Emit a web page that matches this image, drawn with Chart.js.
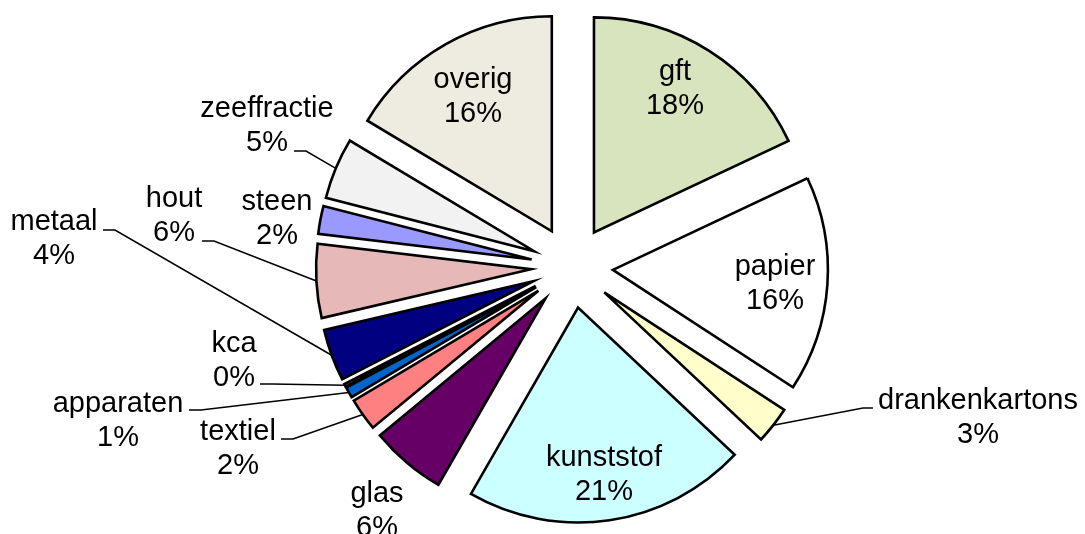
<!DOCTYPE html>
<html>
<head>
<meta charset="utf-8">
<title>Samenstelling restafval</title>
<script src="https://cdn.jsdelivr.net/npm/chart.js@4.4.1/dist/chart.umd.min.js"></script>
<style>
    html, body { margin: 0; padding: 0; background: #fff; }
    canvas { display: block; }
</style>
</head>
<body>
<canvas id="pieChart" width="1085" height="534"></canvas>
<script>
const categories = ['gft', 'papier', 'drankenkartons', 'kunststof', 'glas', 'textiel', 'apparaten', 'kca', 'metaal', 'hout', 'steen', 'zeeffractie', 'overig'];
const shares = [18.0, 16.2, 2.8, 21.3, 5.7, 2.45, 0.8, 0.2, 3.9, 5.55, 2.1, 4.6, 16.4];
const sliceColors = ['#D7E4BD', '#FFFFFF', '#FFFFCC', '#CCFFFF', '#660066', '#FF8080', '#0066CC', '#CCCCFF', '#000080', '#E6B9B8', '#9999FF', '#F2F2F2', '#EEECE1'];

// where each label sits, relative to the pie centre (x = text centre, y = first baseline)
// lx/ly = start of the leader line, only for labels outside the pie
const labelSpots = [
    { x: 103, y: -187 },
    { x: 203, y: 8 },
    { x: 406, y: 142, lx: 301, ly: 141 },
    { x: 32, y: 199 },
    { x: -195, y: 235 },
    { x: -334, y: 173, lx: -291, ly: 172 },
    { x: -454, y: 145, lx: -383, ly: 143 },
    { x: -338, y: 85, lx: -312, ly: 117 },
    { x: -518, y: -37, lx: -469, ly: -37 },
    { x: -398, y: -60, lx: -370, ly: -26 },
    { x: -295, y: -57 },
    { x: -305, y: -150, lx: -278, ly: -116 },
    { x: -99, y: -179 }
];

// pull every slice out along its middle angle
const explodePlugin = {
    id: 'explode',
    afterDatasetsUpdate(chart, args, opts) {
        chart.getDatasetMeta(0).data.forEach(function (arc) {
            const mid = (arc.startAngle + arc.endAngle) / 2;
            arc.x += Math.cos(mid) * opts.distance;
            arc.y += Math.sin(mid) * opts.distance;
        });
    }
};

const sliceLabelPlugin = {
    id: 'sliceLabels',
    afterDraw(chart) {
        const ctx = chart.ctx;
        const area = chart.chartArea;
        const cx = (area.left + area.right) / 2;
        const cy = (area.top + area.bottom) / 2;
        const total = shares.reduce(function (a, b) { return a + b; }, 0);
        const arcs = chart.getDatasetMeta(0).data;

        ctx.save();
        ctx.strokeStyle = '#000';
        ctx.lineWidth = 1.5;
        arcs.forEach(function (arc, i) {
            const spot = labelSpots[i];
            if (spot.lx === undefined) return;
            const mid = (arc.startAngle + arc.endAngle) / 2;
            const ex = arc.x + Math.cos(mid) * arc.outerRadius;
            const ey = arc.y + Math.sin(mid) * arc.outerRadius;
            const sx = cx + spot.lx;
            const sy = cy + spot.ly;
            const elbow = spot.lx < 0 ? 12 : -10;
            ctx.beginPath();
            ctx.moveTo(sx, sy);
            ctx.lineTo(sx + elbow, sy);
            ctx.lineTo(ex, ey);
            ctx.stroke();
        });

        ctx.fillStyle = '#000';
        ctx.font = '29px "Liberation Sans", Arial, sans-serif';
        ctx.textAlign = 'center';
        ctx.textBaseline = 'alphabetic';
        categories.forEach(function (name, i) {
            const spot = labelSpots[i];
            const pct = Math.round(shares[i] / total * 100) + '%';
            ctx.fillText(name, cx + spot.x, cy + spot.y);
            ctx.fillText(pct, cx + spot.x, cy + spot.y + 33.5);
        });
        ctx.restore();
    }
};

function renderPieChart() {
    const ctx = document.getElementById('pieChart').getContext('2d');
    new Chart(ctx, {
        type: 'pie',
        data: {
            labels: categories,
            datasets: [{
                data: shares,
                backgroundColor: sliceColors,
                borderColor: '#000',
                borderWidth: 2.6,
                borderJoinStyle: 'miter',
                radius: 215
            }]
        },
        options: {
            responsive: false,
            animation: false,
            devicePixelRatio: 1,
            layout: { padding: { left: 59, right: 0, top: 0, bottom: 0 } },
            plugins: {
                legend: { display: false },
                tooltip: { enabled: false },
                explode: { distance: 41 }
            }
        },
        plugins: [explodePlugin, sliceLabelPlugin]
    });
}

renderPieChart();
</script>
</body>
</html>
